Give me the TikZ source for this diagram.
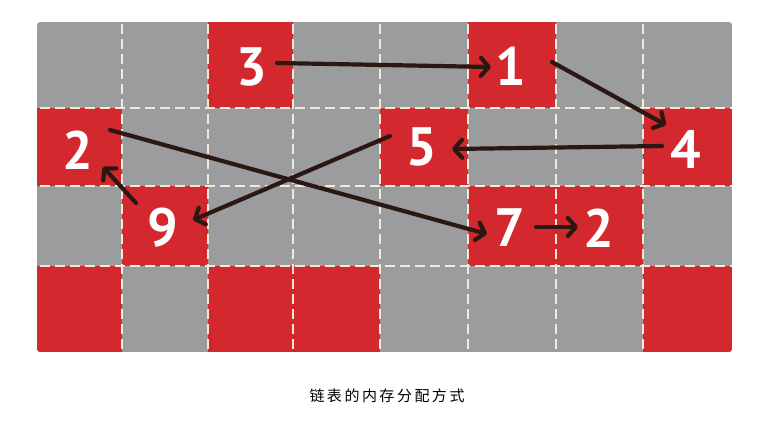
\documentclass[tikz,border=0pt]{standalone}
\usepackage{fontspec}
\newfontfamily\digitfont{PT Sans}
\newfontfamily\cjk{Noto Sans CJK SC}
\usetikzlibrary{arrows.meta}
\definecolor{cellgray}{HTML}{9A9C9E}
\definecolor{cellred}{HTML}{D4282F}
\definecolor{dashcol}{HTML}{F3E9D8}
\definecolor{ink}{HTML}{2B1812}
\begin{document}
\begin{tikzpicture}[x=1pt,y=-1pt,
  redcell/.style={fill=cellred},
  gridline/.style={draw=dashcol,line width=1.8pt,dash pattern=on 10pt off 5pt},
  digit/.style={text=white,font=\digitfont\bfseries\fontsize{54}{54}\selectfont,inner sep=0pt},
  link/.style={draw=ink,line width=4.2pt,line cap=round,-{Straight Barb[length=8pt,width=18pt,round]}}]
\useasboundingbox (0,0) rectangle (759,420);
\begin{scope}
\clip[rounded corners=3pt] (37,22) rectangle (732,352);
\fill[cellgray] (37,22) rectangle (732,352);
% row 0
\fill[redcell] (208,22) rectangle (293,108);
\fill[redcell] (468,22) rectangle (556,108);
% row 1
\fill[redcell] (37,108) rectangle (122,186);
\fill[redcell] (380,108) rectangle (468,186);
\fill[redcell] (643,108) rectangle (732,186);
% row 2
\fill[redcell] (122,186) rectangle (208,266);
\fill[redcell] (468,186) rectangle (556,266);
\fill[redcell] (556,186) rectangle (643,266);
% row 3
\fill[redcell] (37,266) rectangle (122,352);
\fill[redcell] (208,266) rectangle (293,352);
\fill[redcell] (293,266) rectangle (380,352);
\fill[redcell] (643,266) rectangle (732,352);
\foreach \gx in {122,208,293,380,468,556,643} \draw[gridline] (\gx,24) -- (\gx,352);
\foreach \gy in {108,186,266} \draw[gridline] (40,\gy) -- (732,\gy);
\end{scope}
\node[digit] (n3) at (252,67) {3};
\node[digit] (n1) at (511,66) {1};
\node[digit] (n2a) at (78,150) {2};
\node[digit] (n5) at (422,147) {5};
\node[digit] (n4) at (686,149) {4};
\node[digit] (n9) at (163,228) {9};
\node[digit] (n7) at (510,228) {7};
\node[digit] (n2b) at (599,228) {2};
\draw[link] ([shift={(25,-4)}]n3.center) -- ([shift={(-20,1)}]n1.center);
\draw[link] ([shift={(41,-4)}]n1.center) -- ([shift={(-20,-24)}]n4.center);
\draw[link] ([shift={(-24,-3)}]n4.center) -- ([shift={(30,2)}]n5.center);
\draw[link] ([shift={(-32,-11)}]n5.center) -- ([shift={(30,-8)}]n9.center);
\draw[link] ([shift={(-27,-25)}]n9.center) -- ([shift={(25,17)}]n2a.center);
\draw[link] ([shift={(32,-20)}]n2a.center) -- ([shift={(-23,6)}]n7.center);
\draw[link] ([shift={(26,-1)}]n7.center) -- ([shift={(-21,-1)}]n2b.center);
\node[font=\cjk\fontsize{15}{15}\selectfont] (cap) at (387,396) {链\,表\,的\,内\,存\,分\,配\,方\,式};
\end{tikzpicture}
\end{document}
